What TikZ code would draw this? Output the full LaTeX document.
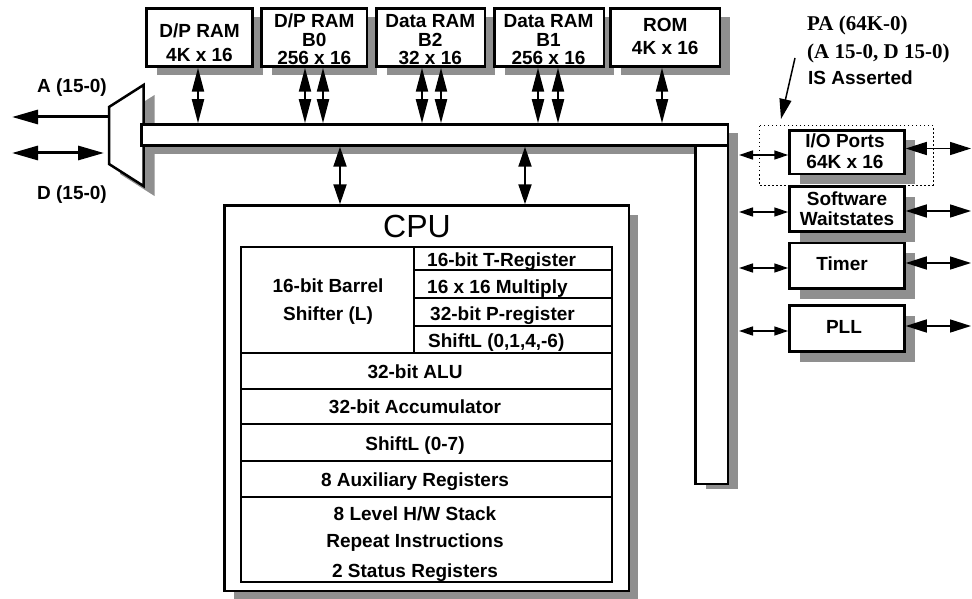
\documentclass[tikz,border=0pt]{standalone}
\usepackage{fontspec}
\setmainfont{Liberation Sans}
\newfontfamily\pafont{Liberation Serif}
\usetikzlibrary{arrows.meta,shadows}
\definecolor{shd}{RGB}{143,143,143}
\begin{document}
\begin{tikzpicture}[x=1pt,y=-1pt,
  blk/.style={draw, line width=2.5pt, fill=white, inner sep=0pt, rectangle},
  memblk/.style={blk, minimum height=58pt, drop shadow={fill=shd, opacity=1, shadow xshift=10pt, shadow yshift=-9pt}},
  sideblk/.style={blk, minimum width=115pt, drop shadow={fill=shd, opacity=1, shadow xshift=10pt, shadow yshift=-10pt}},
  lbl/.style={font=\fontsize{19}{22}\selectfont\bfseries, inner sep=0pt, anchor=base},
  lblw/.style={lbl, anchor=base west},
  patxt/.style={font=\pafont\fontsize{21}{24}\selectfont\bfseries, inner sep=0pt, anchor=base west},
  memarr/.style={line width=2pt, {Triangle[length=24pt,width=12pt]}-{Triangle[length=24pt,width=12pt]}},
  cpuarr/.style={line width=2pt, {Triangle[length=20pt,width=13pt]}-{Triangle[length=20pt,width=13pt]}},
  extarr/.style={line width=3pt, -{Triangle[length=26pt,width=14pt]}},
  extdbl/.style={line width=3pt, {Triangle[length=26pt,width=14pt]}-{Triangle[length=26pt,width=14pt]}},
  inarr/.style={line width=1.5pt, {Triangle[length=14pt,width=9pt]}-{Triangle[length=14pt,width=9pt]}},
  outarr/.style={line width=1.5pt, {Triangle[length=21pt,width=13pt]}-{Triangle[length=21pt,width=13pt]}},
  ptr/.style={line width=1.5pt, -{Triangle[length=20pt,width=12pt]}},
  cellline/.style={line width=2.5pt},
  thinline/.style={line width=1.5pt}
]
\useasboundingbox (0,0) rectangle (972,599);

% multiplexer
\fill[shd] (120,117) -- (154.5,95) -- (154.5,196) -- (120,174) -- cycle;
\draw[line width=2.5pt, fill=white] (109,107) -- (143.5,85) -- (143.5,186) -- (109,164) -- cycle;

% bus
\node[blk, minimum width=586.5pt, minimum height=21pt, drop shadow={fill=shd,opacity=1,shadow xshift=10pt,shadow yshift=-9pt}] (bus) at (434.75,135) {};
\node[blk, minimum width=32.5pt, minimum height=338.5pt, drop shadow={fill=shd,opacity=1,shadow xshift=10pt,shadow yshift=-5pt}] (vbus) at (711.75,314.75) {};

% memory blocks
\node[memblk, minimum width=106pt] (dp4k) at (199.5,37.5) {};
\node[memblk, minimum width=105.5pt] (dpb0) at (314.25,37.5) {};
\node[memblk, minimum width=108.5pt] (ramb2) at (430.75,37.5) {};
\node[memblk, minimum width=109.5pt] (ramb1) at (549.25,37.5) {};
\node[memblk, minimum width=109.5pt] (rom) at (665.25,37.5) {};

% CPU
\node[blk, minimum width=404.5pt, minimum height=385.5pt, drop shadow={fill=shd,opacity=1,shadow xshift=9pt,shadow yshift=-9pt}] (cpu) at (426.75,398.25) {};
\draw[cellline] (241,247) rectangle (612,582);
\draw[cellline] (241,353) -- (612,353);
\draw[cellline] (241,389) -- (612,389);
\draw[cellline] (241,424) -- (612,424);
\draw[cellline] (241,461) -- (612,461);
\draw[cellline] (241,497) -- (612,497);
\draw[line width=2pt] (414,247) -- (414,353);
\draw[thinline] (414,270) -- (612,270);
\draw[thinline] (414,298) -- (612,298);
\draw[thinline] (414,326) -- (612,326);

% peripheral window
\draw[line width=1pt, dash pattern=on 1.5pt off 2.5pt] (759,126) rectangle (933,185);

% peripherals
\node[sideblk, minimum height=43.5pt] (io) at (847,152.25) {};
\node[sideblk, minimum height=45pt] (sw) at (847,209) {};
\node[sideblk, minimum height=45.5pt] (tmr) at (847,265.75) {};
\node[sideblk, minimum height=46pt] (pll) at (847,328.5) {};

% memory <-> bus arrows
\coordinate (m1) at ([xshift=-1.5pt]dp4k.south);
\coordinate (m2) at ([xshift=-9.25pt]dpb0.south);
\coordinate (m3) at ([xshift=8.75pt]dpb0.south);
\coordinate (m4) at ([xshift=-8.75pt]ramb2.south);
\coordinate (m5) at ([xshift=10.25pt]ramb2.south);
\coordinate (m6) at ([xshift=-11.25pt]ramb1.south);
\coordinate (m7) at ([xshift=8.75pt]ramb1.south);
\coordinate (m8) at ([xshift=-3.25pt]rom.south);
\foreach \m in {m1,m2,m3,m4,m5,m6,m7,m8}
  \draw[memarr] (\m) -- (\m |- bus.north);

% bus <-> CPU arrows
\coordinate (c1) at ([xshift=-86.75pt]cpu.north);
\coordinate (c2) at ([xshift=98.25pt]cpu.north);
\draw[cpuarr] (c1 |- bus.south) -- (c1);
\draw[cpuarr] (c2 |- bus.south) -- (c2);

% external A / D
\coordinate (muxA) at (109,117);
\coordinate (aEnd) at (12,117);
\coordinate (dL) at (12,153);
\coordinate (dR) at (104,153);
\draw[extarr] (muxA) -- (aEnd);
\draw[extdbl] (dL) -- (dR);

% peripheral arrows
\coordinate (i1) at (739,155);
\coordinate (i2) at (739,212);
\coordinate (i3) at (739,268);
\coordinate (i4) at (739,331);
\draw[inarr] (i1) -- (i1 -| io.west);
\draw[inarr] (i2) -- (i2 -| sw.west);
\draw[inarr] (i3) -- (i3 -| tmr.west);
\draw[inarr] (i4) -- (i4 -| pll.west);
\coordinate (o1) at (971,148.5);
\coordinate (o2) at (971,211);
\coordinate (o3) at (971,263);
\coordinate (o4) at (971,326);
\draw[outarr] (o1 -| io.east) -- (o1);
\draw[outarr] (o2 -| sw.east) -- (o2);
\draw[outarr] (o3 -| tmr.east) -- (o3);
\draw[outarr] (o4 -| pll.east) -- (o4);

% pointer
\coordinate (pa1) at (795,58);
\coordinate (pa2) at (781,119);
\draw[ptr] (pa1) -- (pa2);

% texts: memories
\node[lbl] (t1a) at (199.5,38) {D/P RAM};
\node[lbl] (t1b) at (199.5,61.5) {4K x 16};
\node[lbl] (t2a) at (314.25,28) {D/P RAM};
\node[lbl] (t2b) at (314.25,46.5) {B0};
\node[lbl] (t2c) at (314.25,65) {256 x 16};
\node[lbl] (t3a) at (430.25,28) {Data RAM};
\node[lbl] (t3b) at (430.25,46.5) {B2};
\node[lbl] (t3c) at (430.25,65) {32 x 16};
\node[lbl] (t4a) at (548.5,28) {Data RAM};
\node[lbl] (t4b) at (548.5,46.5) {B1};
\node[lbl] (t4c) at (548.5,65) {256 x 16};
\node[lbl] (t5a) at (665.25,32) {ROM};
\node[lbl] (t5b) at (665.25,55) {4K x 16};

\node[lbl] (alab) at (72,93) {A (15-0)};
\node[lbl] (dlab) at (72,200) {D (15-0)};

% texts: CPU
\node[font=\fontsize{32}{36}\selectfont, inner sep=0pt, anchor=base] (cputitle) at (417,237) {CPU};
\node[lbl] (barrel1) at (328,292) {16-bit Barrel};
\node[lbl] (barrel2) at (328,320) {Shifter (L)};
\node[lblw] (treg) at (427,266) {16-bit T-Register};
\node[lblw] (mult) at (427,293) {16 x 16 Multiply};
\node[lblw] (preg) at (430,320) {32-bit P-register};
\node[lblw] (shl1) at (428,347) {ShiftL (0,1,4,-6)};
\node[lbl] (alu) at (415,378) {32-bit ALU};
\node[lbl] (acc) at (415,413) {32-bit Accumulator};
\node[lbl] (shl2) at (415,450) {ShiftL (0-7)};
\node[lbl] (aux) at (415,486) {8 Auxiliary Registers};
\node[lbl] (stack) at (415,520) {8 Level H/W Stack};
\node[lbl] (rpt) at (415,547) {Repeat Instructions};
\node[lbl] (stat) at (415,577) {2 Status Registers};

% texts: peripherals
\node[lbl] (io1t) at (845,148) {I/O Ports};
\node[lbl] (io2t) at (845,168) {64K x 16};
\node[lbl] (sw1t) at (847,205) {Software};
\node[lbl] (sw2t) at (847,225) {Waitstates};
\node[lbl] (tmrt) at (842,270) {Timer};
\node[lbl] (pllt) at (844,333) {PLL};

\node[patxt] (pa1t) at (807,31) {PA (64K-0)};
\node[patxt] (pa2t) at (807,59) {(A 15-0, D 15-0)};
\node[lblw] (pa3t) at (808,85) {IS Asserted};
\end{tikzpicture}
\end{document}
